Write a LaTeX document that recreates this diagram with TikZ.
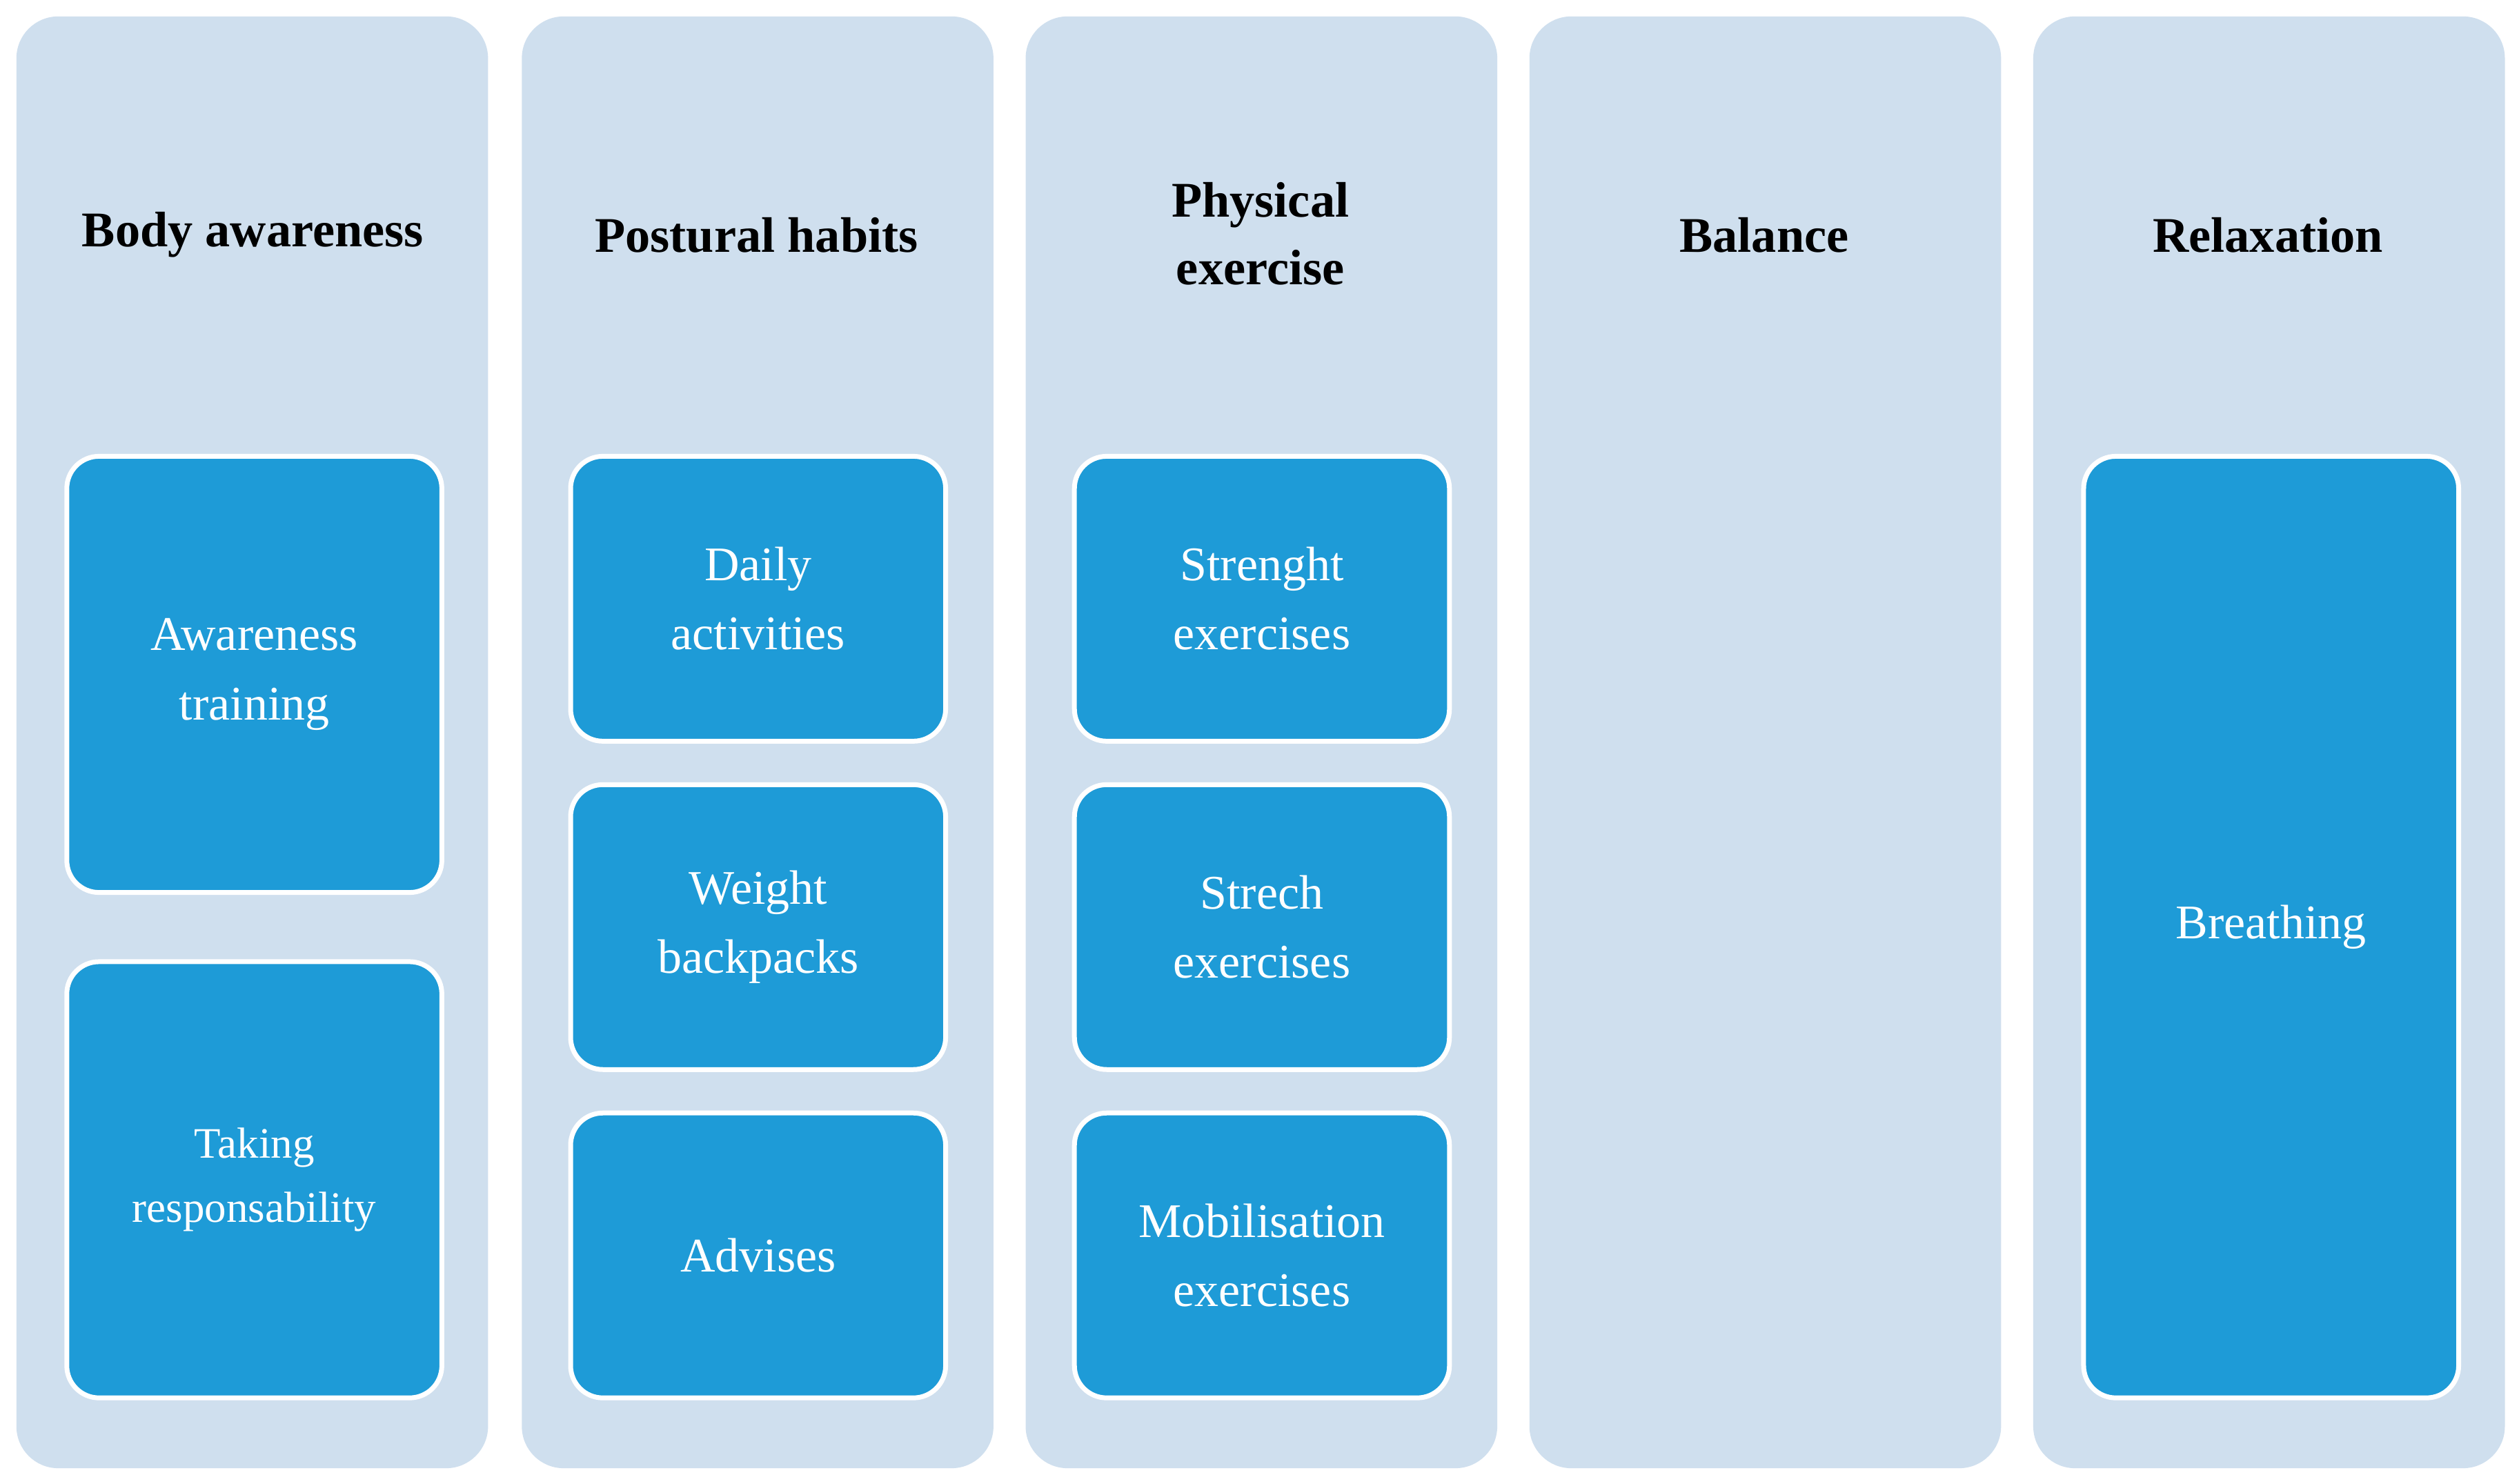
\documentclass[tikz,border=0pt]{standalone}
\usepackage{fontspec}
\setmainfont{Liberation Serif}
\begin{document}
\begin{tikzpicture}[x=1pt,y=-1pt,
  col/.style={fill=colbg,draw=none,rounded corners=26pt,minimum width=293pt,minimum height=902pt,anchor=north west,inner sep=0pt},
  hd/.style={font=\fontsize{31}{42}\selectfont\bfseries,align=center,text=black},
  box/.style={fill=boxbl,draw=white,line width=3pt,rounded corners=20pt,minimum width=233pt,anchor=north west,inner sep=0pt,text=white,align=center,font=\fontsize{30}{43}\selectfont}]
\definecolor{colbg}{HTML}{CFDFEE}
\definecolor{boxbl}{HTML}{1E9BD7}
\useasboundingbox (0,0) rectangle (1565,922);
\fill[white] (0,0) rectangle (1565,922);
\foreach \i/\x in {1/10,2/324,3/637,4/950,5/1263}{
  \node[col] (c\i) at (\x,10) {};
}
\node[hd] (h1) at (157,146) {Body awareness};
\node[hd] (h2) at (470,146) {Postural habits};
\node[hd] (h3) at (783,145) {Physical\\exercise};
\node[hd] (h4) at (1096,146) {Balance};
\node[hd] (h5) at (1409,146) {Relaxation};
\node[box,minimum height=271pt] (b11) at (40,282) {Awareness\\training};
\node[box,minimum height=271pt,font=\fontsize{27}{40}\selectfont] (b12) at (40,596) {Taking\\responsability};
\node[box,minimum height=177pt] (b21) at (353,282) {Daily\\activities};
\node[box,minimum height=177pt] (b22) at (353,486) {Weight\\backpacks};
\node[box,minimum height=177pt] (b23) at (353,690) {Advises};
\node[box,minimum height=177pt] (b31) at (666,282) {Strenght\\exercises};
\node[box,minimum height=177pt] (b32) at (666,486) {Strech\\exercises};
\node[box,minimum height=177pt] (b33) at (666,690) {Mobilisation\\exercises};
\node[box,minimum height=585pt] (b51) at (1293,282) {Breathing};
\end{tikzpicture}
\end{document}
